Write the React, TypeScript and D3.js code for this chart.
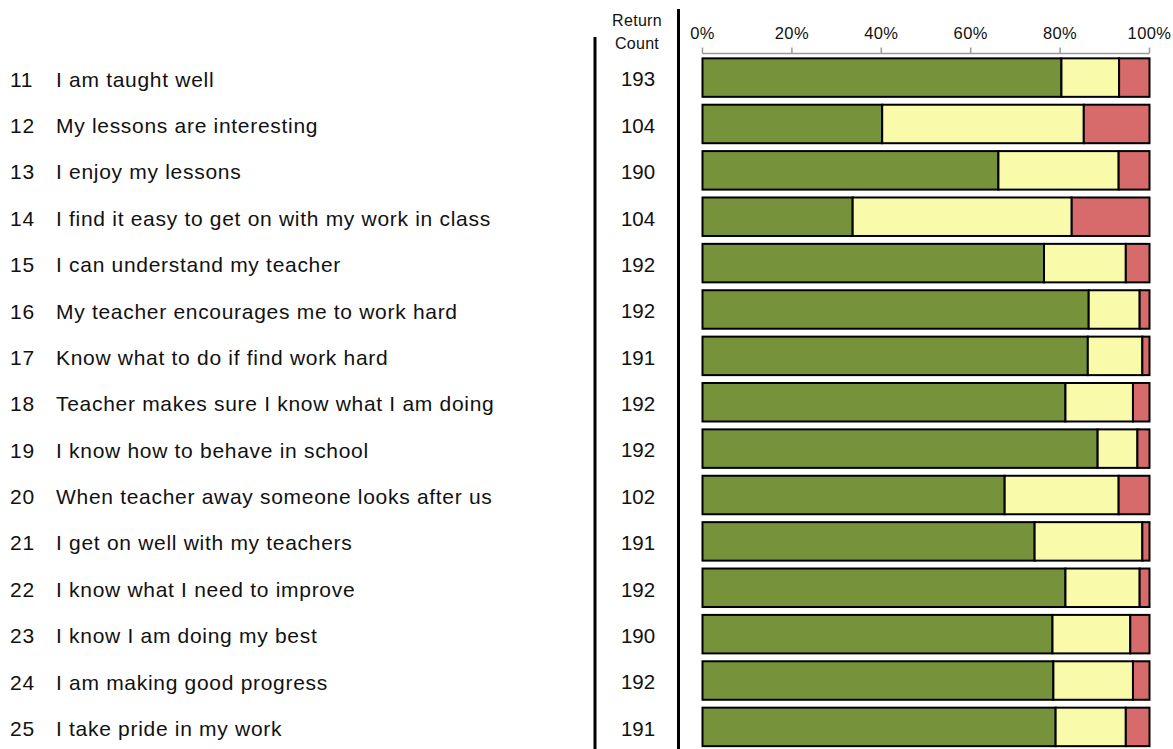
import React from "react";
import * as d3 from "d3";

const questionNumbers = ["11","12","13","14","15","16","17","18","19","20","21","22","23","24","25"];
const questions = [
  "I am taught well",
  "My lessons are interesting",
  "I enjoy my lessons",
  "I find it easy to get on with my work in class",
  "I can understand my teacher",
  "My teacher encourages me to work hard",
  "Know what to do if find work hard",
  "Teacher makes sure I know what I am doing",
  "I know how to behave in school",
  "When teacher away someone looks after us",
  "I get on well with my teachers",
  "I know what I need to improve",
  "I know I am doing my best",
  "I am making good progress",
  "I take pride in my work",
];
const returnCounts = [193,104,190,104,192,192,191,192,192,102,191,192,190,192,191];
const agree = [80.3,40.2,66.2,33.6,76.4,86.4,86.2,81.2,88.4,67.6,74.3,81.2,78.3,78.5,79.0];
const neutral = [12.9,45.1,26.9,49.0,18.3,11.4,12.2,15.1,8.9,25.5,24.1,16.6,17.4,17.8,15.7];
const disagree = [6.8,14.7,6.9,17.4,5.3,2.2,1.6,3.7,2.7,6.9,1.6,2.2,4.3,3.7,5.3];
const tickValues = [0,20,40,60,80,100];
const seriesKeys = ["agree","neutral","disagree"];
const seriesColors = ["#76933C","#FAFAAB","#D76B6B"];

export default function App() {
  const W = 1173, H = 749;
  const x = d3.scaleLinear().domain([0, 100]).range([702.5, 1149.5]);
  const y = d3.scaleBand<string>().domain(questionNumbers).range([54.4, 750.1]).paddingInner(0.17).paddingOuter(0.085);
  const rows = questionNumbers.map((q, i) => ({ q, agree: agree[i], neutral: neutral[i], disagree: disagree[i] }));
  const stack = d3.stack<any>().keys(seriesKeys)(rows);
  const font = "Liberation Sans, Arial, sans-serif";
  const bw = y.bandwidth();
  return (
    <svg width={W} height={H} style={{ position: "absolute", left: 0, top: 0, background: "#fff" }} fontFamily={font}>
      <rect x={0} y={0} width={W} height={H} fill="#fff" />
      {/* header */}
      <text x={637} y={26} fontSize={16} letterSpacing={0.3} textAnchor="middle" fill="#111">Return</text>
      <text x={637} y={49} fontSize={16} letterSpacing={0.3} textAnchor="middle" fill="#111">Count</text>
      {/* vertical separators */}
      <line x1={595} x2={595} y1={37} y2={H} stroke="#000" strokeWidth={3} />
      <line x1={678.5} x2={678.5} y1={9} y2={H} stroke="#000" strokeWidth={3} />
      {/* axis */}
      <line x1={x(0)} x2={x(100)} y1={53.5} y2={53.5} stroke="#9a9a9a" strokeWidth={1.5} />
      {tickValues.map(t => (
        <g key={t}>
          <line x1={x(t)} x2={x(t)} y1={47.5} y2={53.5} stroke="#9a9a9a" strokeWidth={1.5} />
          <text x={x(t)} y={39} fontSize={16.5} letterSpacing={0.4} textAnchor="middle" fill="#111">{t + "%"}</text>
        </g>
      ))}
      {/* labels */}
      {questionNumbers.map((q, i) => {
        const cy = (y(q) as number) + bw / 2;
        return (
          <g key={q}>
            <text x={10} y={cy} dy="0.43em" fontSize={21} letterSpacing={0.7} fill="#111">{q}</text>
            <text x={56} y={cy} dy="0.43em" fontSize={21} letterSpacing={0.7} fill="#111">{questions[i]}</text>
            <text x={638} y={cy} dy="0.43em" fontSize={20.5} textAnchor="middle" fill="#111">{returnCounts[i]}</text>
          </g>
        );
      })}
      {/* bars */}
      {stack.map((layer, si) => (
        <g key={seriesKeys[si]}>
          {layer.map((d, i) => (
            <rect key={i}
              x={x(d[0])} y={y(questionNumbers[i]) as number}
              width={x(d[1]) - x(d[0])} height={bw}
              fill={seriesColors[si]} stroke="#000" strokeWidth={2} />
          ))}
        </g>
      ))}
    </svg>
  );
}
